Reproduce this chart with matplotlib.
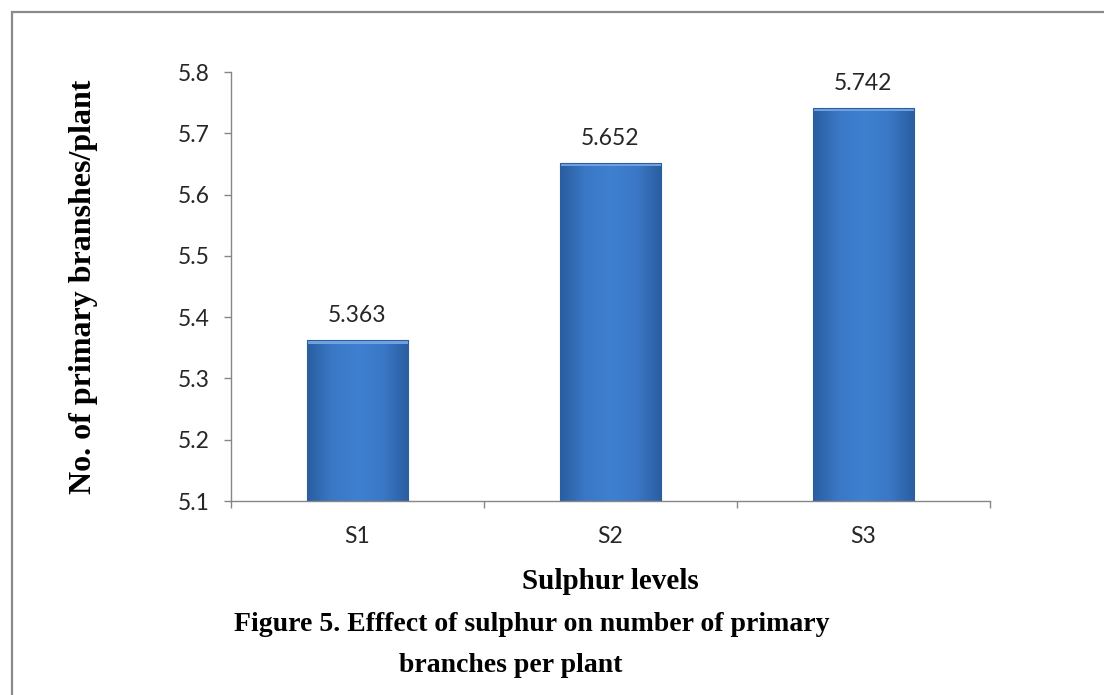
"""Bar chart: effect of sulphur on number of primary branches per plant."""

import matplotlib
matplotlib.use("Agg")
import matplotlib.pyplot as plt
import numpy as np
from matplotlib.colors import LinearSegmentedColormap
from matplotlib.patches import Rectangle

# ── Data ──────────────────────────────────────────────────────────────────────
LEVELS = ["S1", "S2", "S3"]
BRANCHES = [5.363, 5.652, 5.742]
Y_TICKS = [5.1, 5.2, 5.3, 5.4, 5.5, 5.6, 5.7, 5.8]

SANS = ["Lato", "Open Sans", "DejaVu Sans"]
SERIF = ["Liberation Serif", "DejaVu Serif"]
AXIS_GREY = "#868686"
TEXT_SIZE = 16.5

# bevelled blue: dark at the sides, lighter towards the middle
BAR_CMAP = LinearSegmentedColormap.from_list(
    "bevel", ["#2a5d9f", "#3a78c6", "#3f80d0", "#3a78c6", "#2a5d9f"]
)

fig = plt.figure(figsize=(11.04, 6.95), dpi=100)
ax = fig.add_axes([0.2092, 0.2791, 0.6875, 0.6173])

x = np.arange(len(LEVELS))
bars = ax.bar(x, BRANCHES, width=0.40, bottom=0, color="none",
              edgecolor="#2c5e9e", linewidth=0.8, zorder=3)

# gradient fill clipped to each bar
grad = np.linspace(0, 1, 256).reshape(1, -1)
for b in bars:
    x0, w, h = b.get_x(), b.get_width(), b.get_height()
    im = ax.imshow(grad, cmap=BAR_CMAP, aspect="auto", zorder=2,
                   extent=(x0, x0 + w, 5.1, h), interpolation="bicubic")
    im.set_clip_path(Rectangle((x0, 5.1), w, h - 5.1, transform=ax.transData))
    # lighter bevel strip along the top edge
    ax.add_patch(Rectangle((x0, h - 0.006), w, 0.006, facecolor="#6fa2e0",
                           edgecolor="none", zorder=2.5))

for xi, v in zip(x, BRANCHES):
    ax.annotate(f"{v:.3f}", (xi, v), xytext=(0, 10), textcoords="offset points",
                ha="center", va="bottom", fontsize=TEXT_SIZE, family=SANS,
                color="#262626")

# ── Axes ──────────────────────────────────────────────────────────────────────
ax.set_xlim(-0.5, len(LEVELS) - 0.5)
ax.set_ylim(5.1, 5.8)
ax.set_yticks(Y_TICKS)
ax.set_yticklabels([f"{t:.1f}" for t in Y_TICKS], family=SANS,
                   fontsize=TEXT_SIZE, color="#262626")

# category boundaries carry the tick marks, labels sit at the centres
ax.set_xticks(np.arange(-0.5, len(LEVELS), 1.0))
ax.set_xticklabels([])
ax.set_xticks(x, minor=True)
ax.set_xticklabels(LEVELS, minor=True, family=SANS, fontsize=TEXT_SIZE,
                   color="#262626")
ax.tick_params(axis="x", which="minor", length=0, pad=18)
ax.tick_params(axis="both", which="major", direction="out", length=5,
               width=1.0, color=AXIS_GREY)
ax.tick_params(axis="y", pad=10)

for side in ("top", "right"):
    ax.spines[side].set_visible(False)
for side in ("left", "bottom"):
    ax.spines[side].set_color(AXIS_GREY)
    ax.spines[side].set_linewidth(1.0)

ax.set_ylabel("No. of primary branshes/plant", family=SERIF, fontweight="bold",
              fontsize=23, labelpad=0)
ax.yaxis.set_label_coords(-0.175, 0.5)
ax.set_xlabel("Sulphur levels", family=SERIF, fontweight="bold", fontsize=21)
ax.xaxis.set_label_coords(0.5, -0.155)

fig.text(0.482, 0.101, "Figure 5. Efffect of sulphur on number of primary",
         family=SERIF, fontweight="bold", fontsize=20, ha="center", va="center")
fig.text(0.463, 0.043, "branches per plant", family=SERIF, fontweight="bold",
         fontsize=20, ha="center", va="center")

# outer frame, running off the right and bottom edges
fig.add_artist(Rectangle((0.0105, -0.05), 1.2, 1.05 - 0.0175,
                         transform=fig.transFigure, fill=False,
                         edgecolor="#8a8a8a", linewidth=1.6))

fig.savefig("out.png", dpi=100)
